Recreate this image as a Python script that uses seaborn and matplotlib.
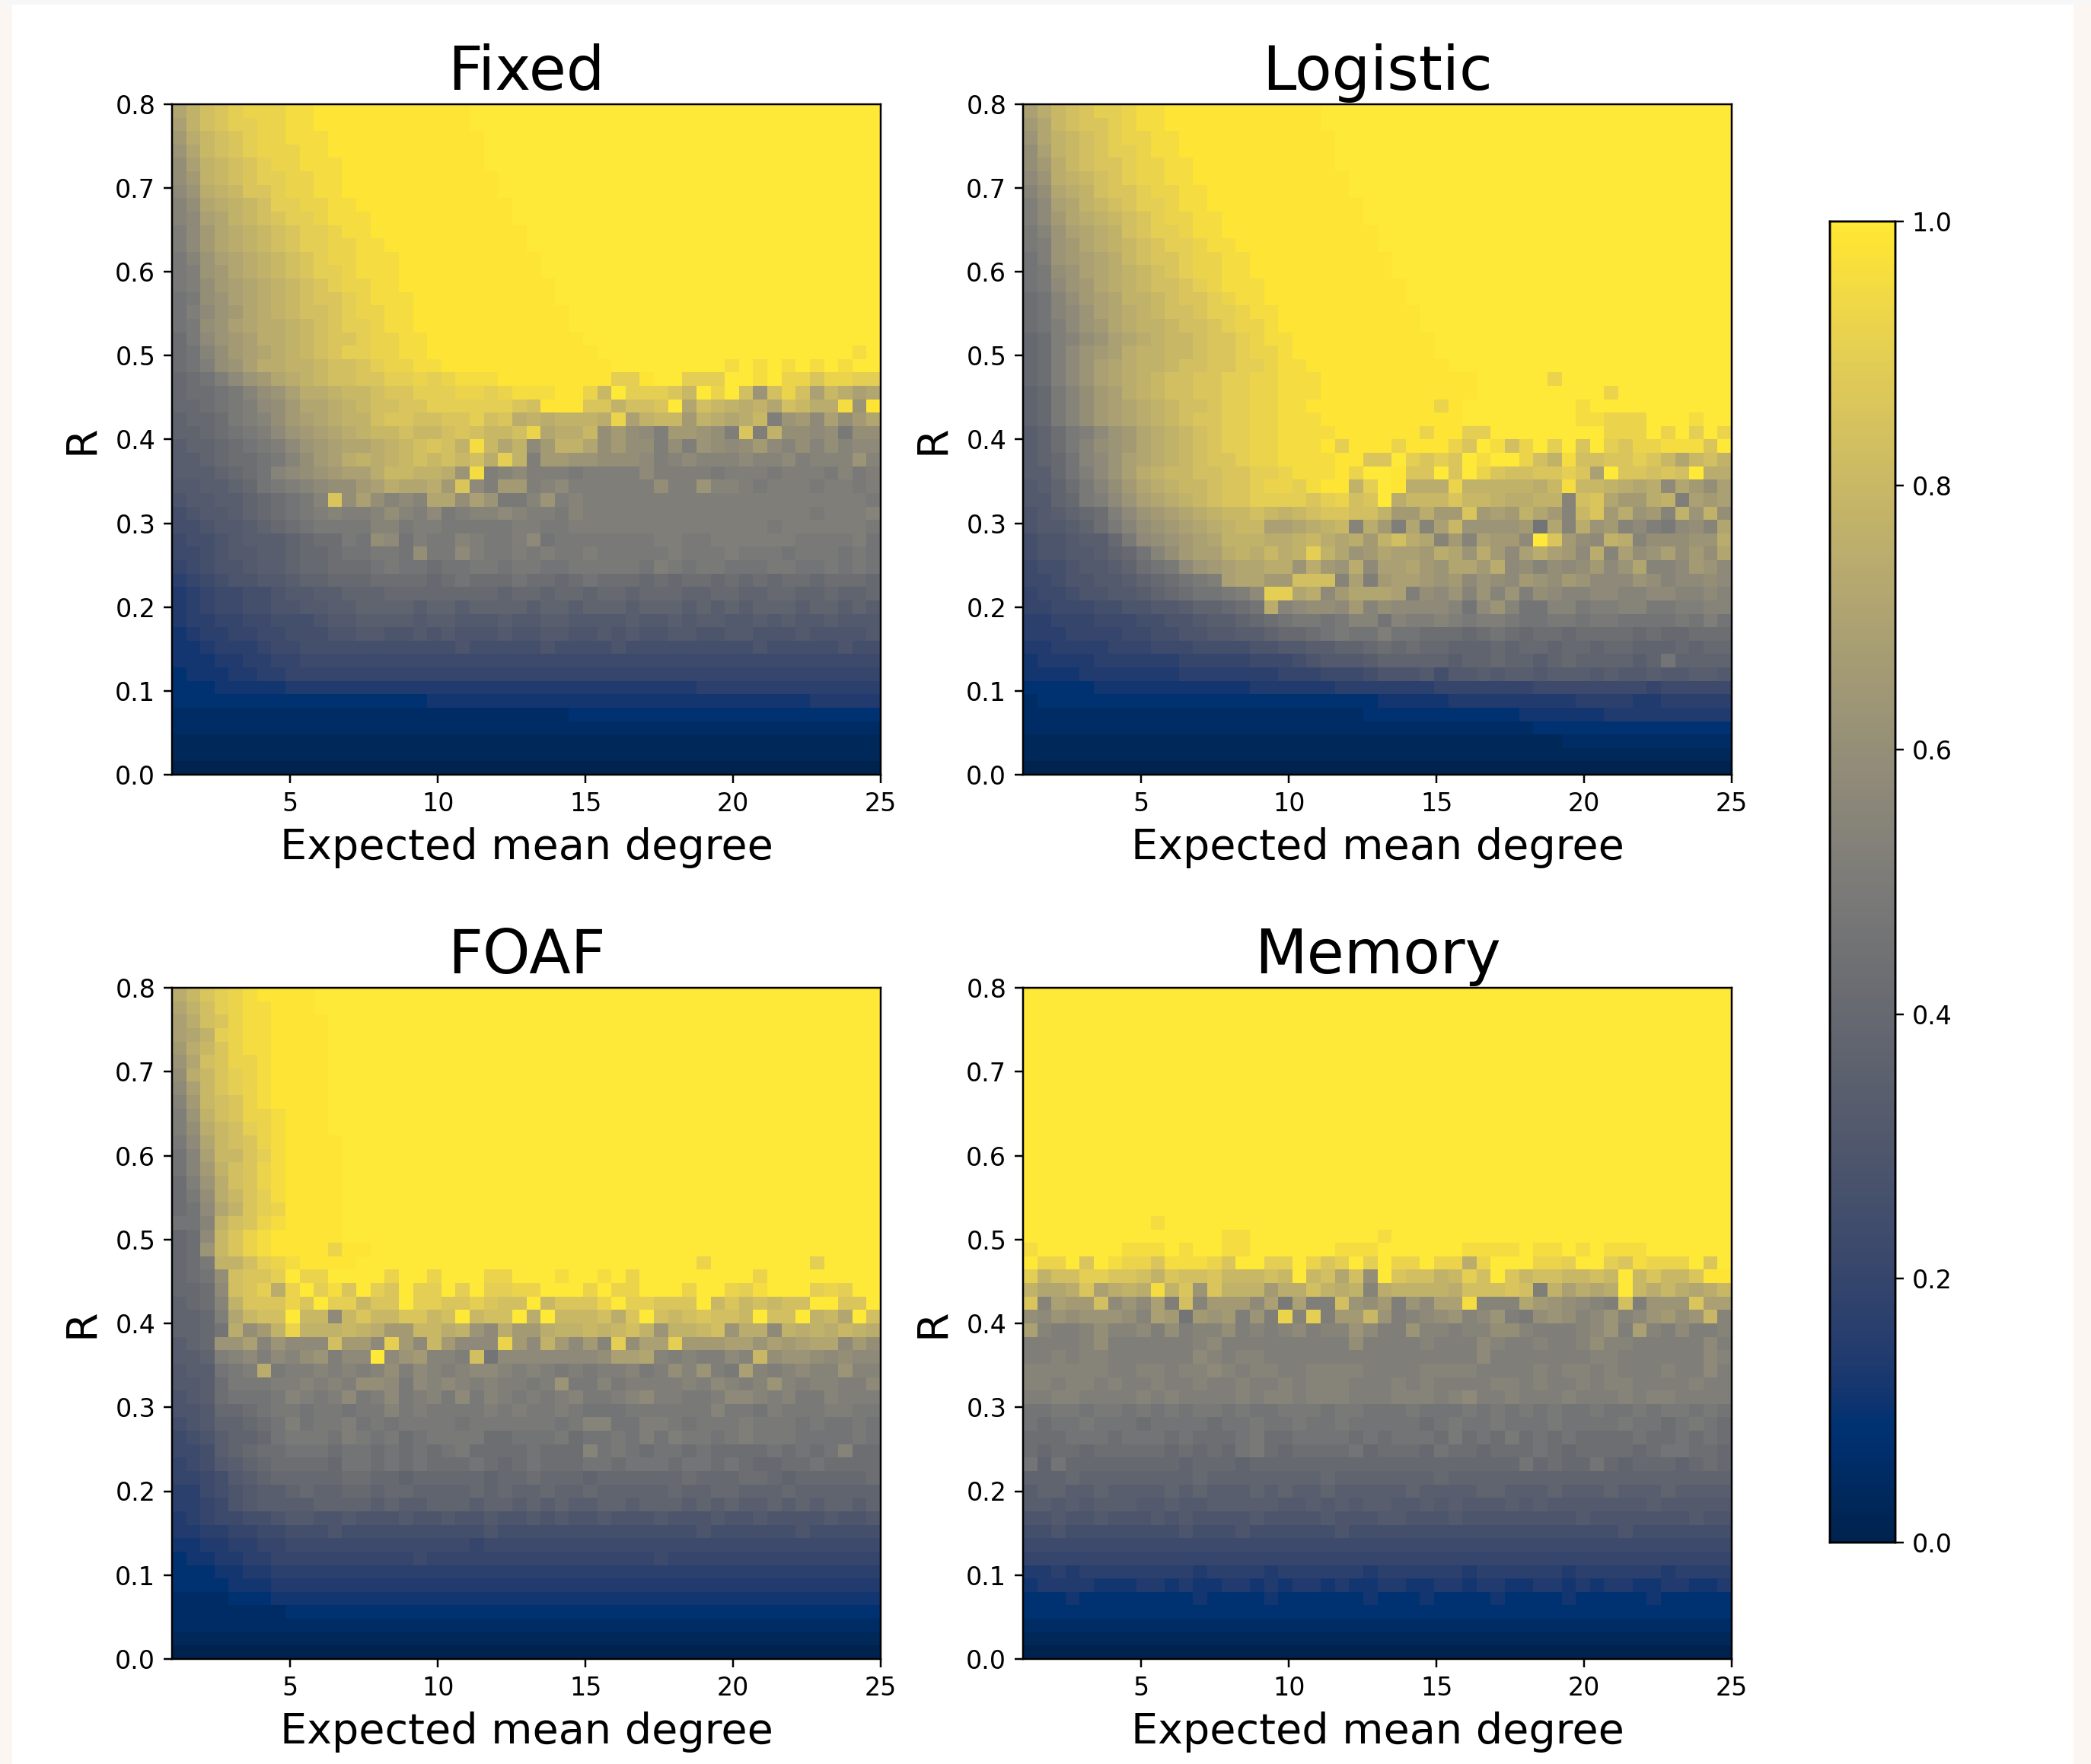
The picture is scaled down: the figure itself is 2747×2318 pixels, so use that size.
import numpy as np
import pandas as pd
import matplotlib
matplotlib.use("Agg")
import matplotlib.pyplot as plt
from matplotlib.patches import Rectangle
import seaborn as sns

LEVELS = "0123456789abcdefghijklmnopqrstuvwxyz"
LEVEL_VALUES = [i / 35 for i in range(31)] + [0.895, 0.925, 0.955, 0.985, 1.0]
TITLES = ["Fixed", "Logistic", "FOAF", "Memory"]
XTICKS = [5, 10, 15, 20, 25]
YTICKS = [0.0, 0.1, 0.2, 0.3, 0.4, 0.5, 0.6, 0.7, 0.8]
CBAR_TICKS = [0.0, 0.2, 0.4, 0.6, 0.8, 1.0]

# Rows run top (R=0.8) to bottom (R=0); each character is a read-off level, last one repeats to fill the row.
FIXED = [
"prtuvwwwxx yyyyyyyyyy yz","ortuvvwwxx yyyyyyyyyy yz","nqstuvwwxx xyyyyyyyyy yyz","mpstuvwwwx xyyyyyyyyy yyz",
"lorstuvwwx xxyyyyyyyy yyz","lnrstuvvww xxyyyyyyyy yyyz","kmqrsuuvww xxyyyyyyyy yyyz","jlpqrstvvw wxxyyyyyyy yyyyz",
"jkoprstuvv wxxxyyyyyy yyyyz","iknpqrstuv vwxxyyyyyy yyyyyz","iknpqrstuv vwwxxyyyyy yyyyyz","hjmopqrstu vwwxxxyyyy yyyyyyz",
"himnpqrstu vvwxxxyyyy yyyyyyz","hilnopqrst uvwwxxyyyy yyyyyyyz","ghlmopqrst uuvwxxxyyy yyyyyyyz","gikmnpqrst tuvwwxxyyy yyyyyyyyz",
"ghlmopqqrs tuvvwxxyyy yyyyyyyyz","fhkmnoqqrs tuuvwwxxyy yyyyyyyyyz","fgjlnopqrs tuvvwwxxyy yyyyyyyyyy zzzzzzzzzz zzzzzzzzxz",
"fgilmoqqrr sttuvwwxxy yyyyyyyyyy yzzzzzzzzx zxzxzxzxzz",
"efgikmnpqr sttuuvvwvw xxxyyyyyyy yvvyzzvvvz zxzwwuwwvv",
"effghjlmoq qrsstuuvvv wwvwxxxyyw szvvvuszwz tmtwtosqop",
"eefghiklnp pqrsttuuvv vvvvutyyyu urttuzptsr qrptsqqxmy",
"deefhijlno pqrrtuuttu uvtuqrqrrr qworssnrqp qsimnkolnp",
"ddefghikmn opqrsstsst utsstwpqqs lnlkinnmli uirllklhll",
"cddefghikm noppqrstut rxsprknrrp lnllilimlk lnkjljljkk",
"ccdeffghjl noqrqrstst stqvrinnmm lllkijkjjj kjjkijjjmj",
"cccdefgjkl mnooqssrrq mxijkiiihi iiikiiiihi iihiiihjhi",
"bbccdeghij kllnoqppqn ukinnijkii iiiiliimjj ihiiihiihi",
"abbccdefgh juloljkjpp lomhhjmiji iiiiiiiiii iiiiiiiiih",
"9abbcdefgh ijiijljikh ijjkjiihji iiiiiiiiii iiiiihiiij",
"99abbcdefg hhhhjjhiih hhhhiihhii iiiiiiiiii iihiiiiiih",
"899abcccde ffhglkgihh jihhikghhh hhhhiihhii iiiihhhhig",
"889abbccde efgghhglhh kihhihihhi hhhhhihhhi hhhghhhghg",
"789aabccde efffghggfg ghhghhgghh hhhgihghhg gghhgghghg",
"6789aabbcd deeeffffef gfffgffefg fffefeffef efeffefffe",
"5678899abb ccdddeeeee eeedeedeed eedeeeddee ddeeddedde",
"5678899aab bccddddcdd cddddcddcd ddcdddcdcd cdddcddcdc",
"5667788999 abbccccbcc bbbcbbccbb bbcbbcbccb bcbcbbcbbb",
"4566778899 9aabbaabab aaabaabbaa babaabbaab baaabaaaab",
"4456667889 9999999999 a99999a999 9a99999999 9a99999a99",
"4445566778 8888888888 8888888888 8888888888 8888888888",
"3444556677 7777777777 7777777777 7777777777 7777777777",
"3334444455 5555555555 5555555555 5555555666 6666666666",
"3333333333 3333333344 4444444444 4444444444 4444455555",
"2222222222 2222222222 2222222233 3333333333 3333333333",
"2","1","1","0",
]
LOGISTIC = [
"oqstuvvwxx yyyyyyyyyy yz","npstuuvwxx yyyyyyyyyy yz","mprstuvwwx xyyyyyyyyy yyz","lorstuvvwx xyyyyyyyyy yyz",
"lnqstuuvww xxyyyyyyyy yyz","kmqrstuvww xxyyyyyyyy yyyz","jlpqrtuuvw wxxyyyyyyy yyyz","ikoprstuvv wxxyyyyyyy yyyyz",
"iknpqrstuv wwxxyyyyyy yyyyz","hjmopqrtuv vwxxyyyyyy yyyyyz","himnpqrstu vvwxxyyyyy yyyyyz","gimnopqstu uvwwxxyyyy yyyyyyz",
"ghlmopqrst uvwwxxyyyy yyyyyyz","ghkmnpqrst tuvwxxxyyy yyyyyyyz","fgjlnoprrs tuuvwxxyyy yyyyyyyz","fgjkmopqrs ttuvvwxxyy yyyyyyyyz",
"fgikmnpqrr sttuvwwxyy yyyyyyyyz","efijlmopqr sstuuvwxxy yyyyyyyyyz","efikmnoqrr sstuuvwwxy yyyyyyyyyz",
"efikmopqrr sttuuvvwxx yyyyyyyyyy z",
"efikmopqrs ttuuvvwwxx xyyyyyyyyy yyzzzzzwzz z",
"dehjlnoqrs ttuuvvwwxx xyyyyyyyyy yyzzzzzzzz zwz",
"dehjlnopqr sttuvvwwxx yyyyyyyyyw yzzzzzzzzx z",
"dehjlnopqr stuuvvwwxx xyyyyyyyyy yzzzzzzzzx xwwwzzzxzz",
"cdfhikmnpq rstuvvwwxx xxyyyyyywy yvvzzzzzzz zwwwzwzvzw",
"cdfhjlmnpq rstuvvwwxx xyvyyywyyy wuzxtwzvzu zvuwwxxxuz",
"cdegjkmopq rstuuvwwxx xxyyuuzvuv uzxzzwtrxt tuuvuspstr",
"ccegikmoqr ssttuuvvwx xxywzzyuuz uzwuttuuvu ozuututzqq",
"bcdfhjlnpq rsstuuvwwv xyyrvzyqqq wrrrrrqsxs srqpqkpnlo",
"bbdehikmop qrstuuvvvv uvwtuzqsss ussrqqrrjt upnnqriono",
"abcdefikmn opqrsstsrs tuuttrnnqn nunonrpnjs unqmnjrmrl",
"abbcdfhjlm nopqrssoop qrsjqnipjo smmmmngpjq mnjkihkljp",
"9aabccehkl mnoprrrqqr sqpqnrtqpj njonnkzunl krqjlllmmq",
"9aabbcdegj lnooqrqsqr vrpmnpoonq pmqnkoqonk qjolmolnlp",
"899abbcdfg hkmnoppqqm qnmqkoopnm ppnqkljlkl nkmpjjknmk",
"889aabbcde fghioppnnt ttjoinoonm nkmlknmlnm kkkmljkklk",
"7889aabbcd efgghikvvp qknpppoilk mjmjmilkjj kkjjkkjjkj",
"7788899aab bcddefgqjk llknjlkkkk jgkmjggjjh iijjhhiijj",
"6677788899 aabccdefgh hghjjgjiij ihiihgghhg hhgggghgig",
"6667777889 9aabbccdee fghggiggff fefgfeffef fffefeefff",
"5566667778 889999aabb ccddefefee dddedeedee deedddedee",
"4555566666 6777778889 abbbcddddd cddeddcded dddcdgdddd",
"4444555555 5666666677 78889aaab9 bbcbccbccc bcbbcbbccb",
"3333344444 4444445555 5566666667 7777778888 8888788888",
"2333333333 3333333333 3333344444 5555555556 6665566666",
"2222222222 2222222222 2222333333 3333344444 4555555555",
"2222222222 2222222222 2222222222 2222223333 3333333333",
"1111111111 1111111111 1111111111 1111111122 2222222222",
"1","0",
]
FOAF = [
"qsuvwxyyyy z","prtvwxxyyy z","oqtuwxxyyy yz","oprvwxxyyy yz","nqsuwxxyyy yz","mptuwwxyyy yz","lqsuvwxyyy yz",
"kosuvwxyyy yz","jnstuwxyyy yz","imrtuwwxyy yz","ilqstvwxyy yz","hkpstuwxyy yyz","gjossuvxyy yyz",
"gjnrtuwxyy yyz","fimqtuwxyy yyz","fhlqsuvxyy yyz","fgkpruvwyy yyz","ggjrtuwxyy yyz","efksuwxyyy yyz",
"efmsuwxyyy ywyyz",
"efhrrtvwxy yyyzzzzzzz zzzzzzzzzz zzzzzzzwzz zzzzzvz",
"efgltuuvzw wzzzzwzzwz zzwwzzzxzz xzwzzzzzzz zwz",
"eefktuvqwz vxuzvuzvvz vzvvwwzzzw zwwzzzwzzw vxzzzvwvzz",
"defjruuuwu zvvsuuzvvu uvuttzsuuu wzvvuuuzsu ststtzzuuz",
"ddeipsttzs sksussuust zsttzqzsss tquztstutt szttzrspzt",
"ddegqlnrwr rrsrqnnssq rmkqnnqrrs rstrmrrstm qqkrqrqsrq",
"cdemmojmkk ktnnkvnksn kkkwnkrnkn jvloovnnno omonoppknl",
"ccdijkikjl mikkzkmnjj itgkkkkkkk loopjijiik jslmmlklkk",
"bccghiqhii jijijlikji jkkjijihih iijhiljmih ojijkjjmjj",
"bbcfhhhiij ijillkhkjk jijiihimhh jhiiiijikj ijmjijjiik",
"abcfggghji hikhikhijh khjihihijh hijkiihhik kjijhhjiii",
"aabeefghhg hhghhjhihh hhihihhihg gghhhhhhjh hgihhhiihh",
"9abddefgig hhighghhhh ghhhhhhghj jggiihghhh ihhhghgghg",
"89acddeghh hgihghfghh hhffggghfg ghgigihhgh ihhhgggghg",
"889cdeffgg gfggfgfgfg hffffgfffj ghgfggfgff ffgfgfgjff",
"789bcdefff feggfgfgff fgfefgfffg gfgggfggfg feeffgffff",
"7789bcdeee eeffeedeee eedeefeeed eeeeeefeee ffedeeeeef",
"6689abccde ddeedeeddd dededdedde dddddeddee dddedddddd",
"6678abcccc ddddcdccdd dcddcdcdcc ddcdddcdcd ccdcdcddcd",
"5678899abb aabaaabaab aabaababaa baaabaaaba abaaaabaab",
"5566778899 9a99999999 99a9999999 9999999a99 9999a99999",
"4455667788 8888888888 8788888888 8888888888 8888888888",
"3445566777 7777777877 7777777777 7777877777 7777777777",
"3334455666 6666666666 6666666666 6666666666 6666666666",
"3333444555 5555555555 5555555555 5555555555 5555555555",
"2222333444 4444444444 4444444444 4444444444 4444444444",
"2222222233 3333333333 3333333333 3333333333 3333333333",
"2","1","0",
]
MEMORY = ["z"] * 17 + [
"zzzzzzzzzx z","zzzzzzzzzz zzzzxxzzzz zzzzzxz",
"xzzzzzzxxx zxzzxxzzzz zzxxxzzzzz zxxxxzxxzx zxxxz",
"zwwzuzxwwu xxxwuzzvvz wuvzvzwwzw wqwzzzwwvz zvuxwwwzuz",
"vrttvvuutr uttussstsz stptlzuttr svtzusttss tszsussuy",
"rppquoqrqx rumurrrnqq trqrjqrrrr qtttutiroq pqzsqsqpqs",
"ujonntkmko itjnnnkoho iitmlnimko oxjjjpnmlk jitimmmuoo",
"lkmlmmmljo ngnmnimiwj vinnsmijkl mjkmihlmlj kmjkmnlmsj",
"ojiijljjki lijjlijijk ijjmkiimjj ijjlljiiij kmiojikiij",
"iiiijliiii iijkiiiiii iiiliiiiji iikjiijiij ljjiiiiiki",
"iijijjiiii iikjijjiii iiiiiiiiii iikiiiiiii jjiiiiiikj",
"jjjjjjiijj ijjkjijjii jjjjiiiijj jjiiiijijj ijiiijiiki",
"jjijjijiij iijiijiiji jjjiiijiji iiijjijiij ijjiiiijii",
"iijjiiiiji jiiiijijji jjjiiijjji jkiijiiiji iijijjiiii",
"gghhghhghg hghhghgghh hghhggghgg ghghghghgg hgghghhghg",
"gfgghgggfg gggfgghggh gghgggggfg hgghggghgg gghggfghgf",
"fffgggfggg fgfffghffg gggfgfgggf hfgfhfgfgf fffgffgfgf",
"feffefffff efefeghfef fffgefffeg ffefffgfef fffefggffe",
"gdgeeeeeee edeeedeeee eeeeeeeeee eeeeegefee gedeeedefe",
"dddedddddd ddeddddddd deddddddde dddddddddd dddddddddd",
"cddccdcccc dcdcccdcdc cdcccccdcc ccddcccdcc cdcccdcccc",
"ccbcbcccbb cbbcccccbb cbcbccbbcb cbbbcbcbbb bbbbcbbbbb",
"aabaabaaab abaaaabaaa abaaabbaaa baaaaaaaab aaaaaaabaa",
"99a9999999 9a999a9999 99a9999999 9999999999 99a9999999",
"8","7","5565666666 6656666566 6666566666 6566666656 6666656666",
"4555544455 4544554545 5454455445 5455445545 4554455445",
"3334333333 3343333433 3333433343 3334333343 3333433333",
"3","2","1","0",
]

def decode(rows):
    out = []
    for row in rows:
        s = row.replace(" ", "")
        s = s[:50].ljust(50, s[-1])
        out.append([LEVEL_VALUES[LEVELS.index(c)] for c in s])
    return np.array(out)

W, H = 2747, 2318
DPI = 224
fig = plt.figure(figsize=(W / DPI, H / DPI), dpi=DPI, facecolor="white")
fig.add_artist(Rectangle((0, 0), 16 / W, 1, transform=fig.transFigure, fc="#fbf6f1", ec="none"))
fig.add_artist(Rectangle((2724 / W, 0), 23 / W, 1, transform=fig.transFigure, fc="#fbf6f1", ec="none"))
fig.add_artist(Rectangle((0, 1 - 6 / H), 1, 6 / H, transform=fig.transFigure, fc="#f7f7f7", ec="none"))

def px_axes(x0, y0, x1, y1):
    return fig.add_axes([x0 / W, 1 - y1 / H, (x1 - x0) / W, (y1 - y0) / H])

boxes = [(226, 137, 1157, 1018), (1344, 137, 2275, 1018), (226, 1298, 1157, 2180), (1344, 1298, 2275, 2180)]
cax = px_axes(2404, 291, 2490, 2027)

for i, (name, rows, box) in enumerate(zip(TITLES, [FIXED, LOGISTIC, FOAF, MEMORY], boxes)):
    ax = px_axes(*box)
    df = pd.DataFrame(decode(rows))
    sns.heatmap(df, ax=ax, cmap="cividis", vmin=0, vmax=1, xticklabels=False, yticklabels=False,
                cbar=(i == 0), cbar_ax=cax if i == 0 else None)
    for sp in ax.spines.values():
        sp.set_visible(True)
        sp.set_linewidth(0.8)
    n = df.shape[0]
    ax.set_xticks([(d - 1) / 24 * n for d in XTICKS], [str(d) for d in XTICKS], rotation=0)
    ax.set_yticks([(0.8 - r) / 0.8 * n for r in YTICKS], [f"{r:.1f}" for r in YTICKS], rotation=0)
    ax.tick_params(labelsize=10.7, length=3.5, width=0.8)
    ax.set_xlabel("Expected mean degree", fontsize=17.9, labelpad=4.5)
    ax.set_ylabel("R", fontsize=17.9, labelpad=5.5)
    ax.set_title(name, fontsize=25.6, pad=6)

cax.set_yticks(CBAR_TICKS, [f"{t:.1f}" for t in CBAR_TICKS])
cax.tick_params(labelsize=10.7, length=3.5, width=0.8)
for sp in cax.spines.values():
    sp.set_visible(True)
    sp.set_linewidth(0.8)

fig.savefig("out.png", dpi=DPI, facecolor=fig.get_facecolor())
